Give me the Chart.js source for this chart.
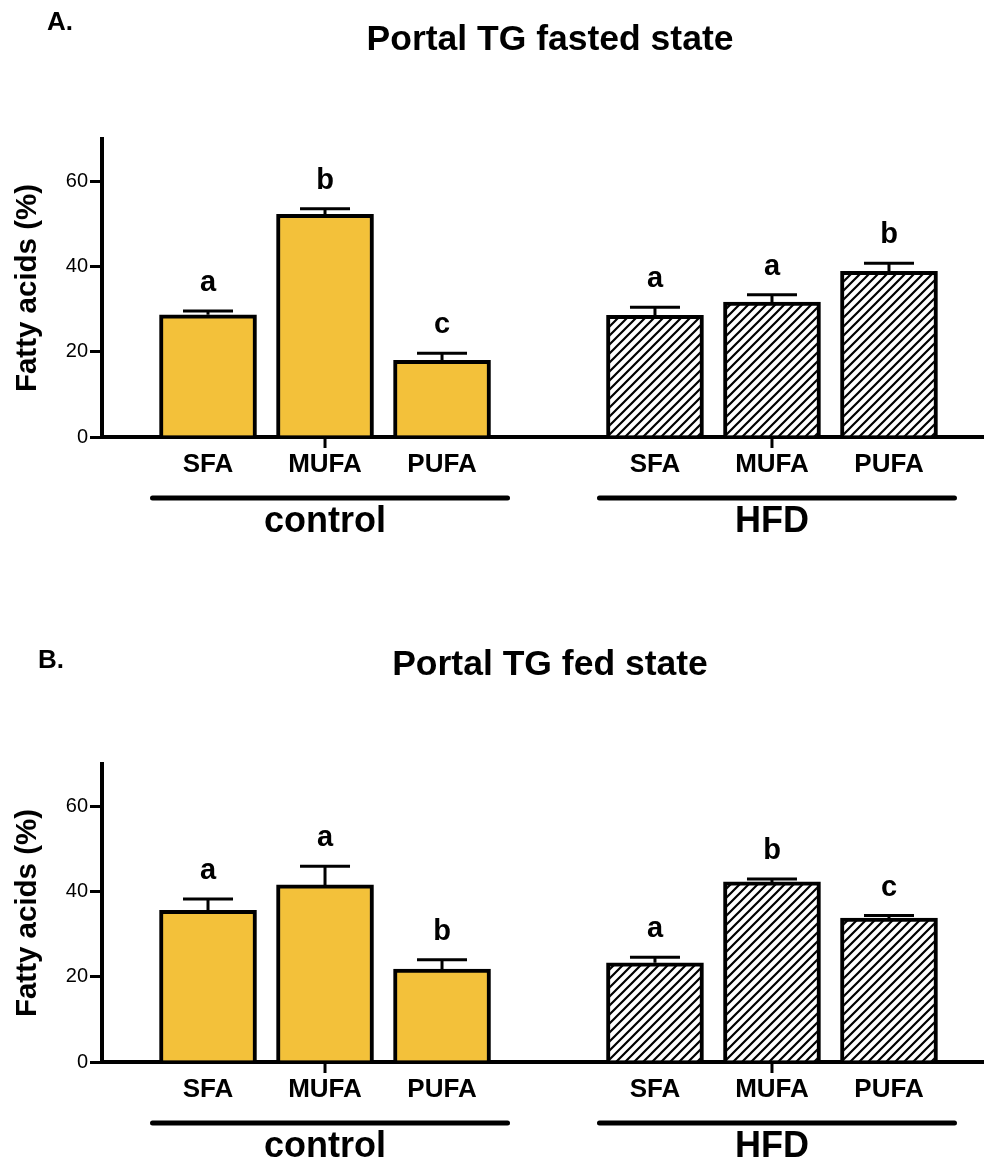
<!DOCTYPE html>
<html>
<head>
<meta charset="utf-8">
<script src="https://cdn.jsdelivr.net/npm/chart.js@4.4.1/dist/chart.umd.min.js"></script>
<style>
  html, body { margin: 0; padding: 0; background: #fff; }
  #wrap { width: 984px; height: 1162px; overflow: hidden; position: relative; }
  canvas { position: absolute; left: 0; }
</style>
</head>
<body>
<div id="wrap">
  <canvas id="panelA" width="984" height="625" style="top:0"></canvas>
  <canvas id="panelB" width="984" height="625" style="top:625px"></canvas>
</div>
<script>
// categories and ticks
const fattyAcids = ["SFA", "MUFA", "PUFA"];
const groups = ["control", "HFD"];
const yTicks = [0, 20, 40, 60];
const yMax = 70;

// A. portal TG, fasted state (mean and SEM, %)
const fastedControl = [28.7, 52.3, 18.0];
const fastedControlSem = [0.9, 1.3, 1.7];
const fastedHfd = [28.6, 31.7, 38.9];
const fastedHfdSem = [1.9, 1.7, 1.9];
const fastedLetters = [["a", "b", "c"], ["a", "a", "b"]];

// B. portal TG, fed state
const fedControl = [35.6, 41.6, 21.8];
const fedControlSem = [2.7, 4.4, 2.2];
const fedHfd = [23.3, 42.3, 33.8];
const fedHfdSem = [1.3, 0.7, 0.6];
const fedLetters = [["a", "a", "b"], ["a", "b", "c"]];

const FONT = "'Liberation Sans', Arial, Helvetica, sans-serif";
const YELLOW = "#F3C13A";
const GAP = 0.82;   // extra room between the two groups, in bar slots
const BAR_W = 97;

Chart.defaults.font.family = FONT;
Chart.defaults.color = "#000";

function xPos(g, i) { return 1 + i + g * (3 + GAP); }

function hatch() {
  const c = document.createElement("canvas");
  c.width = 9; c.height = 9;
  const ctx = c.getContext("2d");
  ctx.fillStyle = "#fff";
  ctx.fillRect(0, 0, 9, 9);
  ctx.strokeStyle = "#000";
  ctx.lineWidth = 2.2;
  ctx.beginPath();
  ctx.moveTo(-2, 11); ctx.lineTo(11, -2);
  ctx.moveTo(-2, 2); ctx.lineTo(2, -2);
  ctx.moveTo(7, 11); ctx.lineTo(11, 7);
  ctx.stroke();
  return ctx.createPattern(c, "repeat");
}

// error bars, letters, group lines, titles
const extras = {
  id: "extras",
  afterDraw(chart, args, opts) {
    const ctx = chart.ctx;
    const y = chart.scales.y;
    const base = y.getPixelForValue(0);
    ctx.save();
    ctx.fillStyle = "#000";
    ctx.strokeStyle = "#000";
    ctx.textBaseline = "alphabetic";

    ctx.font = "bold 35.5px " + FONT;
    ctx.textAlign = "center";
    ctx.fillText(opts.title, 550, 50);
    ctx.font = "bold 26px " + FONT;
    ctx.textAlign = "left";
    ctx.fillText(opts.letter, opts.letterX, opts.letterY);

    chart.data.datasets.forEach((ds, g) => {
      const meta = chart.getDatasetMeta(g);
      meta.data.forEach((bar, i) => {
        const top = y.getPixelForValue(ds.data[i].y + ds.sem[i]);
        ctx.lineWidth = 3;
        ctx.beginPath();
        ctx.moveTo(bar.x, bar.y); ctx.lineTo(bar.x, top);
        ctx.moveTo(bar.x - 25, top); ctx.lineTo(bar.x + 25, top);
        ctx.stroke();
        ctx.font = "bold 29px " + FONT;
        ctx.textAlign = "center";
        ctx.fillText(ds.letters[i], bar.x, top - 20);
      });
      const first = meta.data[0], mid = meta.data[1], last = meta.data[2];
      ctx.lineWidth = 3;
      ctx.beginPath();
      ctx.moveTo(mid.x, base); ctx.lineTo(mid.x, base + 11);
      ctx.stroke();
      ctx.lineWidth = 5;
      ctx.lineCap = "round";
      ctx.beginPath();
      ctx.moveTo(first.x - BAR_W / 2 - 7, base + 61);
      ctx.lineTo(last.x + BAR_W / 2 + 17, base + 61);
      ctx.stroke();
      ctx.lineCap = "butt";
      ctx.font = "bold 36px " + FONT;
      ctx.textAlign = "center";
      ctx.fillText(groups[g], mid.x, base + 95);
    });
    ctx.restore();
  }
};

function makePanel(id, title, letter, letterX, letterY, control, controlSem, hfd, hfdSem, letters) {
  const series = [control, hfd];
  const sems = [controlSem, hfdSem];
  const pattern = hatch();
  return new Chart(document.getElementById(id), {
    type: "bar",
    data: {
      datasets: series.map((vals, g) => ({
        label: groups[g],
        data: vals.map((v, i) => ({ x: xPos(g, i), y: v })),
        sem: sems[g],
        letters: letters[g],
        backgroundColor: g === 0 ? YELLOW : pattern,
        borderColor: "#000",
        borderWidth: 4,
        barThickness: BAR_W,
        grouped: false
      }))
    },
    plugins: [extras],
    options: {
      responsive: false,
      animation: false,
      events: [],
      layout: { padding: { top: 139, left: 0, right: 0, bottom: 0 } },
      plugins: {
        legend: { display: false },
        tooltip: { enabled: false },
        extras: { title, letter, letterX, letterY }
      },
      scales: {
        x: {
          type: "linear",
          min: 0.094,
          max: 7.632,
          offset: false,
          z: 1,
          grid: { display: false, drawTicks: false, offset: false },
          border: { display: true, color: "#000", width: 4 },
          afterBuildTicks: s => {
            s.ticks = [0, 1].flatMap(g => fattyAcids.map((_, i) => ({ value: xPos(g, i) })));
          },
          afterFit: s => { s.height = 625 - 437; },
          ticks: {
            autoSkip: false,
            maxRotation: 0,
            padding: 12,
            color: "#000",
            font: { size: 26, weight: "bold" },
            callback: (v, i) => fattyAcids[i % 3]
          }
        },
        y: {
          min: 0,
          max: yMax,
          afterBuildTicks: s => { s.ticks = yTicks.map(v => ({ value: v })); },
          afterFit: s => { s.width = 102; },
          grid: {
            drawOnChartArea: false, drawTicks: true, tickLength: 12,
            tickWidth: 3, tickColor: "#000", lineWidth: 3, color: "#000"
          },
          border: { color: "#000", width: 4 },
          ticks: { padding: 2, color: "#000", font: { size: 20 } },
          title: {
            display: true,
            text: "Fatty acids (%)",
            color: "#000",
            font: { size: 29.5, weight: "bold" },
            padding: { top: 10, bottom: 0 }
          }
        }
      }
    }
  });
}

makePanel("panelA", "Portal TG fasted state", "A.", 47, 30,
  fastedControl, fastedControlSem, fastedHfd, fastedHfdSem, fastedLetters);
makePanel("panelB", "Portal TG fed state", "B.", 38, 43,
  fedControl, fedControlSem, fedHfd, fedHfdSem, fedLetters);
</script>
</body>
</html>
